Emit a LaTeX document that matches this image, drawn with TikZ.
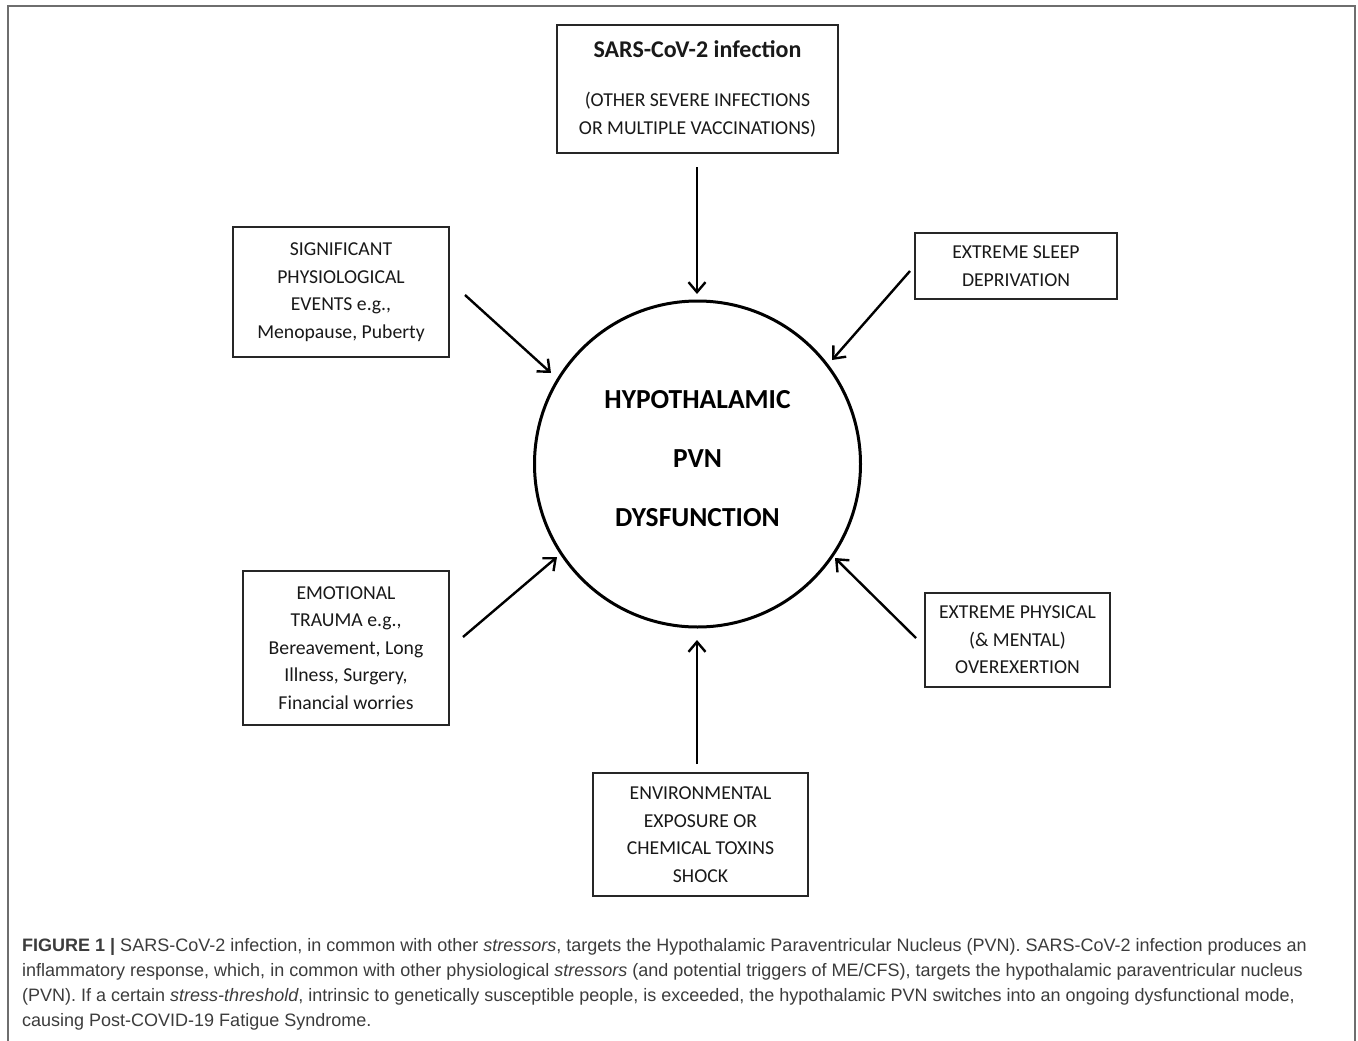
\documentclass[tikz,border=0pt]{standalone}
\usepackage{fontspec}
\setmainfont{Carlito}
\newfontfamily\capfont{Liberation Sans}
\usetikzlibrary{arrows.meta}
\definecolor{framegray}{HTML}{6E6E6E}
\definecolor{capgray}{HTML}{3C3C3C}
\tikzset{
  box/.style={draw=black!85, line width=1.3pt, align=center, inner sep=0pt,
    font=\fontsize{19.7}{27.6}\selectfont, text=black!90},
  arr/.style={line width=2.4pt, -{Straight Barb[length=10pt,width=17pt,line width=2.4pt]}},
  hub/.style={draw=black, line width=3pt, circle, minimum size=326pt, inner sep=0pt},
  hubtext/.style={align=center, inner sep=0pt, font=\bfseries\fontsize{27.5}{59}\selectfont},
}
\begin{document}
\begin{tikzpicture}[x=1pt,y=-1pt]
\useasboundingbox (0,0) rectangle (1358,1041);
\fill[white] (0,0) rectangle (1358,1041);
% outer frame
\draw[framegray, line width=2pt] (8,1045) -- (8,6) -- (1355,6) -- (1355,1045);

% hub
\node[hub] (c) at (697.5,464) {};
\node[hubtext] (ct) at (697.5,459) {HYPOTHALAMIC\\PVN\\DYSFUNCTION};

% boxes
\node[box, minimum width=281pt, minimum height=128pt] (b1) at (697.5,89)
  {{\bfseries\fontsize{24}{28}\selectfont SARS-CoV-2 infection}\\[21pt](OTHER SEVERE INFECTIONS\\OR MULTIPLE VACCINATIONS)};
\node[box, minimum width=216pt, minimum height=130pt] (b2) at (341,292)
  {SIGNIFICANT\\PHYSIOLOGICAL\\EVENTS e.g.,\\Menopause, Puberty};
\node[box, minimum width=202pt, minimum height=66pt] (b3) at (1016,266)
  {EXTREME SLEEP\\DEPRIVATION};
\node[box, minimum width=206pt, minimum height=154pt] (b4) at (346,648)
  {EMOTIONAL\\TRAUMA e.g.,\\Bereavement, Long\\Illness, Surgery,\\Financial worries};
\node[box, minimum width=185pt, minimum height=94pt] (b5) at (1017.5,640)
  {EXTREME PHYSICAL\\(\& MENTAL)\\OVEREXERTION};
\node[box, minimum width=215pt, minimum height=123pt] (b6) at (700.5,834.5)
  {ENVIRONMENTAL\\EXPOSURE OR\\CHEMICAL TOXINS\\SHOCK};

% arrow ends
\coordinate (s1) at (697,167);  \coordinate (e1) at (697,294);
\coordinate (s2) at (465,295);  \coordinate (e2) at (551,373);
\coordinate (s3) at (910,271);  \coordinate (e3) at (832,360);
\coordinate (s4) at (463,637);  \coordinate (e4) at (557,557);
\coordinate (s5) at (916,638);  \coordinate (e5) at (835,558);
\coordinate (s6) at (697,764);  \coordinate (e6) at (697,640);
\draw[arr] (s1) -- (e1);
\draw[arr] (s2) -- (e2);
\draw[arr] (s3) -- (e3);
\draw[arr] (s4) -- (e4);
\draw[arr] (s5) -- (e5);
\draw[arr] (s6) -- (e6);

% caption
\node[anchor=north west, align=left, inner sep=0pt, text=capgray,
  font=\capfont\fontsize{18}{25}\selectfont] (cap) at (22,938)
  {{\bfseries FIGURE 1 |} SARS-CoV-2 infection, in common with other \emph{stressors}, targets the Hypothalamic Paraventricular Nucleus (PVN). SARS-CoV-2 infection produces an\\
  inflammatory response, which, in common with other physiological \emph{stressors} (and potential triggers of ME/CFS), targets the hypothalamic paraventricular nucleus\\
  (PVN). If a certain \emph{stress-threshold}, intrinsic to genetically susceptible people, is exceeded, the hypothalamic PVN switches into an ongoing dysfunctional mode,\\
  causing Post-COVID-19 Fatigue Syndrome.};
\end{tikzpicture}
\end{document}
